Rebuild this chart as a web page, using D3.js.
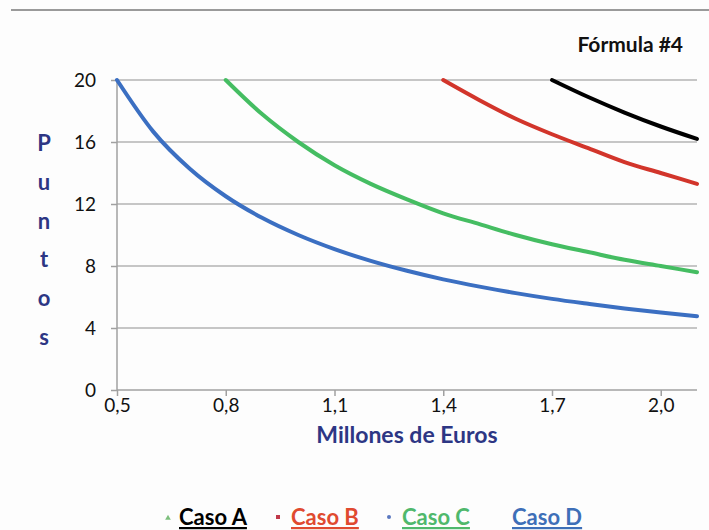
<!DOCTYPE html>
<html><head><meta charset="utf-8">
<script src="https://cdn.jsdelivr.net/npm/d3@7"></script>
<style>body{margin:0;background:#fff;} svg{display:block;}</style>
</head><body>
<svg id="c" width="709" height="530"></svg>
<script>
const xTicks = [0.5, 0.8, 1.1, 1.4, 1.7, 2.0];
const yTicks = [0, 4, 8, 12, 16, 20];
const casoA_x = [1.7, 1.8, 1.9, 2.0, 2.1];
const casoA_y = [20, 18.9, 17.9, 17.0, 16.2];
const casoB_x = [1.4, 1.5, 1.6, 1.7, 1.8, 1.9, 2.0, 2.1];
const casoB_y = [20, 18.7, 17.5, 16.5, 15.6, 14.7, 14.0, 13.3];
const casoC_x = [0.8, 0.9, 1.0, 1.1, 1.2, 1.3, 1.4, 1.5, 1.6, 1.7, 1.8, 1.9, 2.0, 2.1];
const casoC_y = [20, 17.8, 16, 14.5, 13.3, 12.3, 11.4, 10.7, 10, 9.4, 8.9, 8.4, 8.0, 7.6];
const casoD_x = [0.5, 0.6, 0.7, 0.8, 0.9, 1.0, 1.1, 1.2, 1.3, 1.4, 1.5, 1.6, 1.7, 1.8, 1.9, 2.0, 2.1];
const casoD_y = [20, 16.67, 14.29, 12.5, 11.11, 10, 9.09, 8.33, 7.69, 7.14, 6.67, 6.25, 5.88, 5.56, 5.26, 5.0, 4.76];
const seriesNames = ["Caso A", "Caso B", "Caso C", "Caso D"];
const seriesColors = ["#000000", "#d2352b", "#45bd62", "#3b6fc2"];
const legendText = ["#000000", "#e04a30", "#4fb86c", "#3e6fb8"];

const series = [
  {name: seriesNames[0], x: casoA_x, y: casoA_y, color: seriesColors[0]},
  {name: seriesNames[1], x: casoB_x, y: casoB_y, color: seriesColors[1]},
  {name: seriesNames[2], x: casoC_x, y: casoC_y, color: seriesColors[2]},
  {name: seriesNames[3], x: casoD_x, y: casoD_y, color: seriesColors[3]}
];

const svg = d3.select("#c");
const font = "Lato, 'Open Sans', sans-serif";
svg.append("rect").attr("width", 709).attr("height", 530).attr("fill", "#fdfdfd");
svg.append("line").attr("x1", 11).attr("x2", 709).attr("y1", 10).attr("y2", 10)
  .attr("stroke", "#9a9a9a").attr("stroke-width", 2);

const x = d3.scaleLinear().domain([0.5, 2.1]).range([117, 697]);
const y = d3.scaleLinear().domain([0, 20]).range([390, 80]);

// gridlines
svg.append("g").selectAll("line").data(yTicks.filter(d => d > 0)).join("line")
  .attr("x1", 117).attr("x2", 697).attr("y1", d => y(d)).attr("y2", d => y(d))
  .attr("stroke", "#b3b3b3").attr("stroke-width", 1.5);

// axes
const yAxis = svg.append("g").attr("transform", "translate(117,0)")
  .call(d3.axisLeft(y).tickValues(yTicks).tickSize(6).tickPadding(15).tickFormat(d3.format("d")));
const xAxis = svg.append("g").attr("transform", "translate(0,390)")
  .call(d3.axisBottom(x).tickValues(xTicks).tickSize(6).tickPadding(3).tickFormat(d => d.toFixed(1).replace(".", ",")));
[yAxis, xAxis].forEach(a => {
  a.select(".domain").attr("stroke", "#a0a0a0").attr("stroke-width", 1.5);
  a.selectAll(".tick line").attr("stroke", "#a0a0a0").attr("stroke-width", 1.5);
  a.selectAll("text").attr("font-family", font).attr("font-size", 19).attr("fill", "#111");
});
xAxis.select(".domain").attr("d", "M117,0H697");
yAxis.select(".domain").attr("d", "M0,80V390");

// lines
const line = d3.line().x(d => x(d[0])).y(d => y(d[1])).curve(d3.curveMonotoneX);
svg.append("g").selectAll("path").data(series).join("path")
  .attr("d", s => line(s.x.map((v, i) => [v, s.y[i]])))
  .attr("fill", "none").attr("stroke", s => s.color).attr("stroke-width", 4)
  .attr("stroke-linecap", "round");

// title
svg.append("text").attr("x", 683).attr("y", 52).attr("text-anchor", "end")
  .attr("font-family", font).attr("font-weight", "bold").attr("font-size", 21).attr("fill", "#111")
  .text("Fórmula #4");

// y title (stacked letters)
const yTitle = "Puntos".split("");
const yLetterPos = [143, 182, 221, 259, 298, 337];
svg.append("g").selectAll("text").data(yTitle).join("text")
  .attr("x", 44).attr("y", (d, i) => yLetterPos[i]).attr("dy", "0.35em")
  .attr("text-anchor", "middle").attr("font-family", font).attr("font-weight", "bold")
  .attr("font-size", 22).attr("fill", "#2d3684").text(d => d);

// x title
svg.append("text").attr("x", 407).attr("y", 443).attr("text-anchor", "middle")
  .attr("font-family", font).attr("font-weight", "bold").attr("font-size", 23).attr("fill", "#2d3684")
  .text("Millones de Euros");

// legend
const legX = [179, 291, 402, 512];
const lg = svg.append("g");
series.forEach((s, i) => {
  lg.append("text").attr("x", legX[i]).attr("y", 525)
    .attr("font-family", font).attr("font-weight", "bold").attr("font-size", 22)
    .attr("fill", legendText[i]).attr("text-decoration", "underline").text(s.name);
});
// misplaced legend markers (as in reference)
lg.append("path").attr("d", d3.symbol(d3.symbolTriangle, 14)()).attr("transform", "translate(168,518)").attr("fill", "#7dbf7d");
lg.append("rect").attr("x", 276).attr("y", 515).attr("width", 4).attr("height", 4).attr("fill", "#c0394a");
lg.append("circle").attr("cx", 389).attr("cy", 517).attr("r", 2).attr("fill", "#5a78c0");
</script>
</body></html>
